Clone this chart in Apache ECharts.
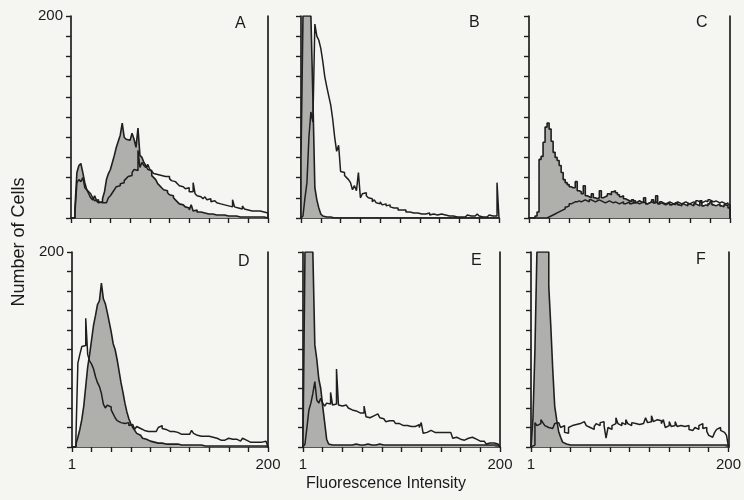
<!DOCTYPE html>
<html>
<head>
<meta charset="utf-8">
<script src="https://cdn.jsdelivr.net/npm/echarts@6/dist/echarts.min.js"></script>
<style>
html,body{margin:0;padding:0;background:#f5f5f2;}
#chart{width:744px;height:500px;}
</style>
</head>
<body>
<div id="chart"></div>
<script>
// Panel letters
const panelLetters = ['A','B','C','D','E','F'];
// Tick labels
const xTickLabels = ['1','200'];
const yTopLabel = '200';
const yTitle = 'Number of Cells';
const xTitle = 'Fluorescence Intensity';

// Histogram counts per channel (100 channels, 1..200 log scale); shaded = control, open = test
const aFilled = [0,0,10,45,52,54,45,35,28,24,
 20,18,22,17,15,16,19,26,38,44,
 48,55,62,70,76,82,94,80,78,77,
 76,84,78,70,89,62,60,55,52,48,
 47,42,40,38,34,32,30,28,27,25,
 23,22,20,18,16,14,13,12,11,10,
 8,13,7,8,6,6,5,5,6,4,
 4,4,3,3,3,3,2,3,2,2,
 2,2,2,2,2,1,2,1,1,1,
 1,1,1,1,1,1,1,1,1,0];
const aOpen = [0,0,5,35,38,36,40,30,28,26,
 24,20,17,18,16,15,14,15,16,20,
 22,25,28,31,32,34,35,37,39,41,
 42,45,48,47,67,50,55,52,50,53,
 48,46,44,43,44,42,43,41,40,41,
 39,37,36,35,34,32,31,30,29,30,
 26,26,35,24,22,21,20,19,21,18,
 19,16,17,16,15,14,15,13,13,12,
 12,11,18,11,10,10,9,12,9,8,
 8,7,8,7,6,7,8,6,7,5];
const bFilled = [60,200,200,200,200,200,120,30,18,10,
 4,2,1,1,1,0,0,0,0,0,
 0,0,0,0,0,0,0,0,0,0,
 0,0,0,0,0,0,0,0,0,0,
 0,0,0,0,0,0,0,0,0,0,
 0,0,0,0,0,0,0,0,0,0,
 0,0,0,0,0,0,0,0,0,0,
 0,0,0,0,0,0,0,0,0,0,
 0,0,0,0,0,0,0,0,0,0,
 0,0,0,0,0,0,0,0,0,0];
const bOpen = [0,2,20,35,80,105,95,192,180,176,
 168,155,140,130,121,112,98,80,66,72,
 46,45,42,40,38,35,28,32,27,45,
 20,24,25,22,20,19,16,18,15,14,
 16,13,14,12,13,11,10,9,10,8,
 8,7,8,6,6,7,5,6,5,5,
 4,5,4,4,5,3,4,4,3,3,
 4,3,3,2,2,3,2,2,1,2,
 1,2,1,2,3,2,1,2,3,4,
 2,1,2,1,2,3,2,1,2,35];
const cFilled = [0,0,0,2,6,58,61,75,90,94,
 88,76,65,60,57,52,45,38,35,33,
 31,30,30,36,27,26,24,32,22,21,
 20,24,20,19,20,27,20,21,22,24,
 23,26,27,25,23,21,22,19,18,17,
 16,18,15,16,17,16,15,20,14,15,
 16,18,15,22,14,15,14,13,14,15,
 13,14,13,15,13,12,14,13,12,14,
 13,12,14,13,12,17,12,13,12,14,
 16,13,12,13,14,12,11,13,12,10];
const cOpen = [0,0,0,0,0,0,0,0,0,1,
 2,3,4,5,6,7,8,9,11,12,
 14,15,16,16,17,16,17,18,17,16,
 18,17,16,17,18,17,16,15,16,17,
 16,15,16,15,14,15,16,14,15,16,
 14,15,17,15,14,15,16,15,14,15,
 16,15,16,15,14,16,15,14,15,16,
 15,14,15,16,15,14,15,16,15,14,
 15,16,15,17,16,15,16,17,16,18,
 17,16,17,16,15,16,15,14,15,13];
const dFilled = [0,0,3,10,18,28,42,62,82,95,
 110,125,135,146,150,168,152,147,138,128,
 118,106,100,90,78,66,56,45,36,29,
 24,20,17,14,12,10,9,8,7,6,
 6,5,5,4,5,4,4,3,4,3,
 3,3,2,3,2,2,3,2,2,2,
 2,2,2,2,1,2,2,1,2,1,
 1,1,2,1,1,1,1,1,1,1,
 1,1,1,1,1,1,1,1,1,1,
 1,1,1,1,1,1,1,1,1,1];
const dOpen = [0,0,10,86,95,103,104,132,95,88,
 85,80,72,66,62,55,44,40,43,41,
 38,34,30,27,25,23,24,26,25,22,
 23,21,18,21,19,18,17,18,16,17,
 16,15,16,15,20,22,19,18,17,16,
 15,16,14,15,14,13,14,13,12,13,
 12,17,14,12,13,11,12,11,10,11,
 9,10,8,9,8,7,8,7,8,9,
 10,8,7,8,7,6,8,9,7,6,
 5,6,5,4,5,6,5,7,6,8];
const eFilled = [5,200,200,200,200,200,105,90,70,60,
 42,25,8,3,2,2,2,3,2,2,
 2,3,2,2,2,2,3,2,2,2,
 2,2,3,2,2,2,2,2,3,2,
 2,2,2,2,2,2,2,2,2,2,
 2,2,2,2,2,2,2,2,2,2,
 2,2,2,2,2,2,2,2,2,2,
 2,2,2,2,2,2,2,2,2,2,
 2,2,2,2,2,2,2,2,2,2,
 2,2,2,2,2,2,2,2,2,2];
const eOpen = [0,3,20,38,45,55,67,48,45,50,
 45,42,45,44,56,43,44,80,43,42,
 41,43,44,40,38,36,37,36,35,34,
 35,42,31,30,29,32,33,34,32,30,
 29,30,26,27,26,27,25,24,24,22,
 22,21,22,21,21,22,21,22,23,20,
 25,14,15,16,17,16,15,14,15,14,
 15,14,15,14,15,13,9,10,9,8,
 9,7,8,9,8,10,12,8,7,6,
 5,6,4,3,4,3,4,3,3,4];
const fFilled = [0,30,100,200,200,200,200,200,200,165,
 125,80,42,28,16,10,5,3,2,2,
 2,2,2,2,2,2,2,2,2,2,
 2,2,2,2,2,2,2,2,2,2,
 2,2,2,2,2,2,2,2,2,2,
 2,2,2,2,2,2,2,2,2,2,
 2,2,2,2,2,2,2,2,2,2,
 2,2,2,2,2,2,2,2,2,2,
 2,2,2,2,2,2,2,2,2,2,
 2,2,2,2,2,2,2,2,2,2];
const fOpen = [0,2,25,22,24,28,25,22,20,22,
 19,20,24,25,26,20,22,15,14,20,
 22,21,23,22,24,22,26,24,22,20,
 22,18,21,24,22,25,26,22,9,20,
 18,22,24,30,24,22,25,23,28,24,
 22,25,24,22,23,25,24,26,30,25,
 26,32,26,28,30,27,24,28,20,22,
 26,21,22,26,21,22,24,21,20,22,
 18,17,16,20,18,22,24,19,20,16,
 12,10,11,15,18,20,17,15,13,12];

const panels = [
  {letter:panelLetters[0], filled:aFilled, open:aOpen, grid:{left:71, top:16, width:197, height:202}, yLabel:true, xLabel:false, rightBorder:true, lx:241, ly:25},
  {letter:panelLetters[1], filled:bFilled, open:bOpen, grid:{left:301, top:16, width:198, height:202}, yLabel:false, xLabel:false, rightBorder:false, lx:475, ly:24},
  {letter:panelLetters[2], filled:cFilled, open:cOpen, grid:{left:529, top:16, width:201, height:202}, yLabel:false, xLabel:false, rightBorder:true, lx:702, ly:24},
  {letter:panelLetters[3], filled:dFilled, open:dOpen, grid:{left:72, top:252, width:196, height:195}, yLabel:true, xLabel:true, rightBorder:true, lx:244, ly:263},
  {letter:panelLetters[4], filled:eFilled, open:eOpen, grid:{left:303, top:252, width:197, height:195}, yLabel:false, xLabel:true, rightBorder:true, lx:477, ly:262},
  {letter:panelLetters[5], filled:fFilled, open:fOpen, grid:{left:531, top:252, width:200, height:195}, yLabel:false, xLabel:true, rightBorder:true, lx:702, ly:261}
];

const INK = '#1f1f1f';
const FILL = '#afafac';
const FONT = 'Liberation Sans, Arial, sans-serif';

function toSteps(arr){
  const pts = [[0,0]];
  arr.forEach((v,i)=>pts.push([i,v]));
  pts.push([arr.length, arr[arr.length-1]]);
  pts.push([arr.length, 0]);
  return pts;
}

const grids=[], xAxes=[], yAxes=[], series=[], graphics=[];
panels.forEach((p,gi)=>{
  grids.push(Object.assign({containLabel:false}, p.grid));
  xAxes.push({
    type:'value', gridIndex:gi, min:0, max:100, interval:10,
    axisLine:{show:true, onZero:false, lineStyle:{color:INK, width:1.7}},
    axisTick:{show:true, inside:false, length:5, lineStyle:{color:INK, width:1.4}},
    splitLine:{show:false},
    axisLabel:{show:p.xLabel, showMinLabel:true, showMaxLabel:true, margin:10,
      fontFamily:FONT, fontSize:15, color:'#1a1a1a',
      formatter:(v)=> v===0 ? xTickLabels[0] : (v===100 ? xTickLabels[1] : '')}
  });
  yAxes.push({
    type:'value', gridIndex:gi, min:0, max:200, interval:20,
    axisLine:{show:true, lineStyle:{color:INK, width:1.7}},
    axisTick:{show:true, inside:false, length:5, lineStyle:{color:INK, width:1.4}},
    splitLine:{show:false},
    axisLabel:{show:p.yLabel, showMinLabel:true, showMaxLabel:true, margin:8,
      fontFamily:FONT, fontSize:15, color:'#1a1a1a',
      formatter:(v)=> v===200 ? yTopLabel : ''}
  });
  const yi = yAxes.length-1;
  if(p.rightBorder){
    yAxes.push({
      type:'value', gridIndex:gi, min:0, max:200, position:'right',
      axisLine:{show:true, lineStyle:{color:INK, width:1.7}},
      axisTick:{show:false}, axisLabel:{show:false}, splitLine:{show:false}
    });
  }
  series.push({
    type:'line', xAxisIndex:gi, yAxisIndex:yi, step:'end', symbol:'none',
    data:toSteps(p.filled), clip:true,
    lineStyle:{color:INK, width:1.6},
    areaStyle:{color:FILL, opacity:1, origin:'start'},
    z:2
  });
  series.push({
    type:'line', xAxisIndex:gi, yAxisIndex:yi, step:'end', symbol:'none',
    data:toSteps(p.open), clip:true,
    lineStyle:{color:INK, width:1.5},
    z:3
  });
  graphics.push({type:'text', left:p.lx-6, top:p.ly-9,
    style:{text:p.letter, fontFamily:FONT, fontSize:16, fill:'#1a1a1a'}});
});

graphics.push({type:'text', x:19, y:242, rotation:Math.PI/2,
  style:{text:yTitle, fontFamily:FONT, fontSize:18, fill:'#1a1a1a',
    textAlign:'center', textVerticalAlign:'middle'}});
graphics.push({type:'text', x:386, y:484,
  style:{text:xTitle, fontFamily:FONT, fontSize:16, fill:'#1a1a1a',
    textAlign:'center', textVerticalAlign:'middle'}});

const chart = echarts.init(document.getElementById('chart'), null, {renderer:'canvas'});
chart.setOption({
  backgroundColor:'#f5f5f2',
  animation:false,
  grid:grids, xAxis:xAxes, yAxis:yAxes, series:series, graphic:graphics
});
</script>
</body>
</html>
